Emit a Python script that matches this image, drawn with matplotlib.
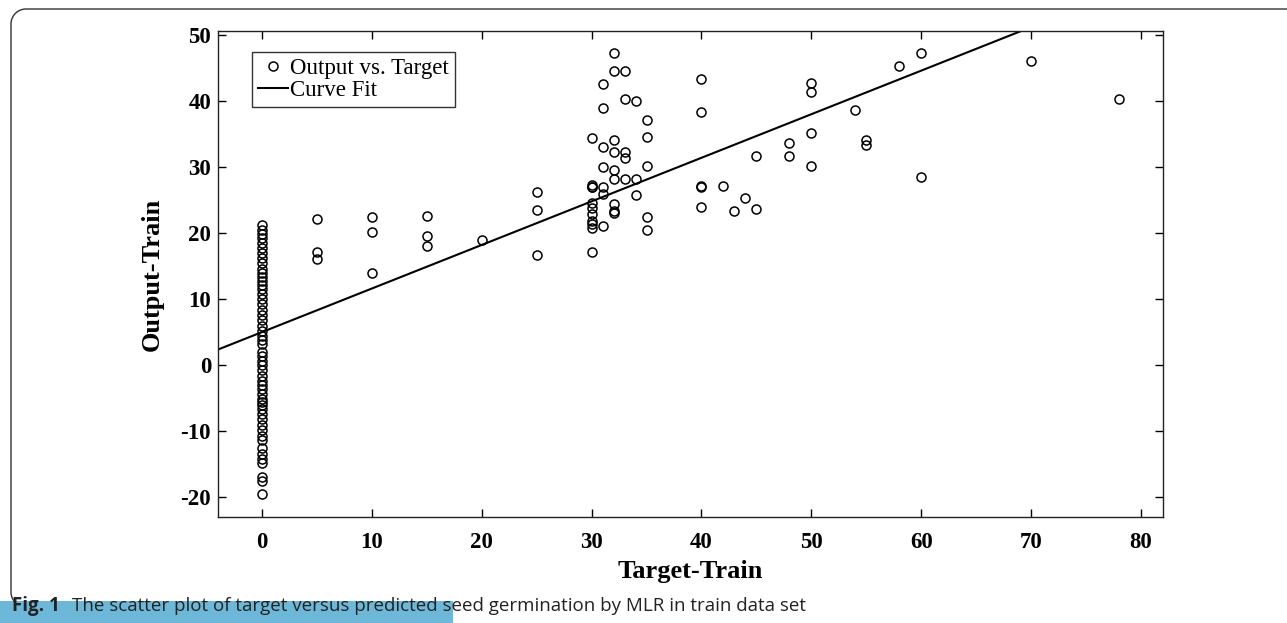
import numpy as np
import matplotlib
matplotlib.use("Agg")
import matplotlib.pyplot as plt
from matplotlib.lines import Line2D
from matplotlib.patches import Rectangle

plt.rcParams["axes.unicode_minus"] = False

# target values (x) and model output (y) for the train set
zero_outputs = [21.2, 20.5, 19.9, 19.2, 18.5, 17.8, 17.0, 16.2, 15.4, 14.6, 14.0,
                13.4, 12.8, 12.2, 11.5, 10.8, 10.0, 9.2, 8.4, 7.6, 6.8, 6.0, 5.2,
                4.4, 3.8, 3.2, 2.0, 1.4, 0.6, 0.0, -0.8, -1.6, -2.4, -3.0, -3.6,
                -4.4, -5.2, -5.6, -6.0, -6.6, -7.4, -8.2, -9.0, -9.8, -10.8,
                -11.4, -12.6, -13.4, -14.2, -14.8, -17.0, -17.6, -19.5]

other_targets = [5, 5, 5, 10, 10, 10, 15, 15, 15, 20, 25, 25, 25,
                 30, 30, 30, 30, 30, 30, 30, 30, 30, 30, 30,
                 31, 31, 31, 31, 31, 31, 31,
                 32, 32, 32, 32, 32, 32, 32, 32, 32,
                 33, 33, 33, 33, 33,
                 34, 34, 34,
                 35, 35, 35, 35, 35,
                 40, 40, 40, 40, 40, 42, 43, 44, 45, 45, 48, 48,
                 50, 50, 50, 50, 54, 55, 55, 58, 60, 60, 70, 78]
other_outputs = [22.2, 17.1, 16.0, 22.5, 20.2, 13.9, 22.6, 19.6, 18.0, 18.9, 26.2, 23.5, 16.7,
                 34.4, 27.3, 26.9, 24.5, 23.8, 22.9, 21.8, 21.3, 20.8, 17.1, 26.9,
                 42.5, 38.9, 33.1, 30.0, 26.9, 25.9, 21.1,
                 47.3, 44.6, 34.1, 32.2, 29.6, 24.4, 23.4, 23.1, 28.2,
                 44.6, 40.3, 32.3, 31.4, 28.2,
                 40.0, 28.2, 25.8,
                 37.1, 34.6, 30.2, 22.5, 20.5,
                 43.4, 38.3, 27.1, 27.0, 24.0, 27.1, 23.3, 25.3, 31.7, 23.6, 33.7, 31.6,
                 42.7, 41.4, 35.2, 30.2, 38.6, 34.1, 33.3, 45.3, 47.3, 28.5, 46.0, 40.3]

targets = [0] * len(zero_outputs) + other_targets
outputs = zero_outputs + other_outputs

# linear curve fit
fit_slope = 0.66
fit_intercept = 5.0

x_ticks = [0, 10, 20, 30, 40, 50, 60, 70, 80]
y_ticks = [-20, -10, 0, 10, 20, 30, 40, 50]

W, H = 1287, 623
fig = plt.figure(figsize=(W / 100, H / 100), dpi=100)
ax = fig.add_axes([218 / W, 1 - 517 / H, (1163 - 218) / W, (517 - 31) / H])

serif = ["Liberation Serif", "DejaVu Serif"]

ax.plot(targets, outputs, "o", mfc="none", mec="black", ms=6.5, mew=1.1,
        label="Output vs. Target", zorder=3)
xfit = np.array([-4, 82])
ax.plot(xfit, fit_slope * xfit + fit_intercept, color="black", lw=1.5,
        label="Curve Fit", zorder=2)

ax.set_xlim(-4, 82)
ax.set_ylim(-23, 50.6)
ax.set_xticks(x_ticks)
ax.set_yticks(y_ticks)
ax.tick_params(direction="in", length=6, width=1, top=True, right=True)
ax.tick_params(axis="x", pad=11)
ax.tick_params(axis="y", pad=5)
for lab in ax.get_xticklabels() + ax.get_yticklabels():
    lab.set_fontfamily(serif)
    lab.set_fontweight("bold")
    lab.set_fontsize(16.5)
for sp in ax.spines.values():
    sp.set_linewidth(1.0)
    sp.set_color("#222222")

ax.set_xlabel("Target-Train", fontfamily=serif, fontweight="bold", fontsize=19, labelpad=5)
ax.set_ylabel("Output-Train", fontfamily=serif, fontweight="bold", fontsize=19, labelpad=12)

leg = ax.legend(loc="upper left", bbox_to_anchor=(0.036, 0.957), borderaxespad=0,
                prop={"family": serif, "size": 16.5}, fancybox=False, framealpha=1,
                edgecolor="#333333", handlelength=1.3, handletextpad=0.12,
                labelspacing=0.05, borderpad=0.25)
leg.get_frame().set_linewidth(1.0)

# page frame with rounded corners
r = 15
frame_x = [W, 11 + r]
frame_y = [9, 9]
ang = np.linspace(np.pi / 2, np.pi, 20)
frame_x += list(11 + r + r * np.cos(ang))
frame_y += list(9 + r - r * np.sin(ang))
frame_x += [11, 11]
frame_y += [9 + r, 592]
ang2 = np.linspace(np.pi, 1.25 * np.pi, 10)
frame_x += list(11 + r + r * np.cos(ang2))
frame_y += list(592 - r * np.sin(ang2))
fig.add_artist(Line2D(np.array(frame_x) / W, 1 - np.array(frame_y) / H,
                      transform=fig.transFigure, color="#333333", lw=1.0))

# caption with blue band
fig.add_artist(Rectangle((0, 0), 453 / W, (623 - 601) / H, transform=fig.transFigure,
                         facecolor="#6db8d9", edgecolor="none", zorder=0))
cap_y = 1 - 606 / H
fig.text(12 / W, cap_y, "Fig. 1", fontfamily="Open Sans", fontweight="bold",
         fontsize=13.5, va="center", ha="left", color="#222222")
fig.text(72 / W, cap_y, "The scatter plot of target versus predicted seed germination by MLR in train data set",
         fontfamily="Open Sans", fontsize=13.5, va="center", ha="left", color="#222222")

fig.savefig("out.png", dpi=100)
